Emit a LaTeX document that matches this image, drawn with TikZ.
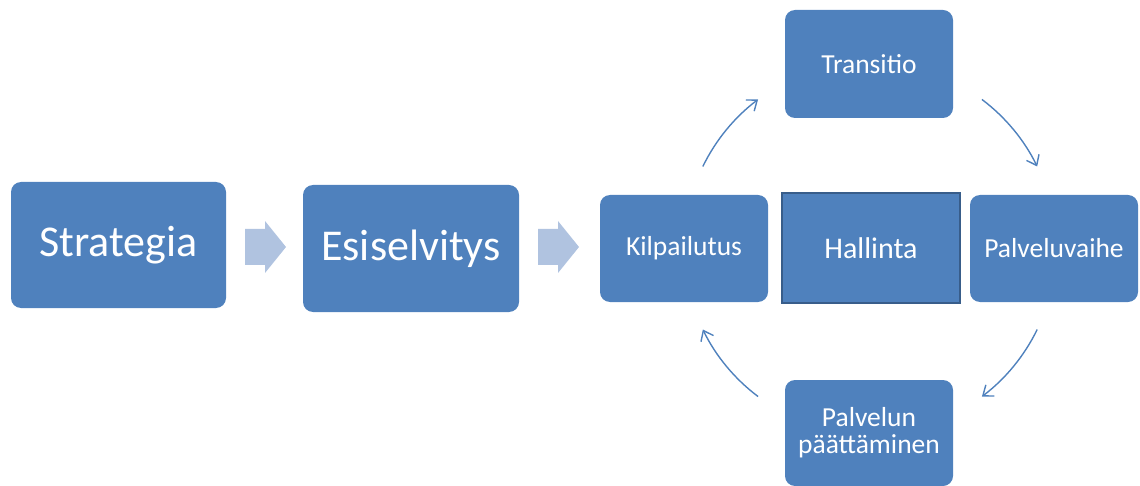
\documentclass[tikz,border=0pt]{standalone}
\usepackage{fontspec}
\setmainfont{Carlito}
\usetikzlibrary{calc,arrows.meta}
\definecolor{boxblue}{HTML}{4F81BD}
\definecolor{boxedge}{HTML}{385D8A}
\definecolor{chevron}{HTML}{B0C3E0}
\begin{document}
\begin{tikzpicture}[x=1pt,y=-1pt,
  stage/.style={fill=boxblue, rounded corners=10pt, text=white, inner sep=0pt, align=center},
  bigtext/.style={font=\fontsize{44}{48}\selectfont},
  smalltext/.style={font=\fontsize{27.5}{31}\selectfont},
  coretext/.style={font=\fontsize{30}{34}\selectfont},
  core/.style={fill=boxblue, draw=boxedge, line width=2pt, text=white, inner sep=0pt},
  cycle/.style={draw=boxblue, line width=1.4pt, -{Straight Barb[length=9pt,width=14pt,line width=1.4pt]}}
]
\useasboundingbox (0,0) rectangle (1140,486);

% main stages
\node[stage, bigtext, minimum width=215pt, minimum height=126pt] (strat) at (118.5,245) {Strategia};
\node[stage, bigtext, minimum width=216pt, minimum height=127pt] (esis) at (411,248.5) {Esiselvitys};

% block arrows between stages
\foreach \x/\n in {245/ch1, 538/ch2}{
  \coordinate (\n) at (\x,247);
  \fill[chevron] (\n) ++(0,-18) -- ++(20,0) -- ++(0,-8) -- ++(21,26) -- ++(-21,26) -- ++(0,-8) -- ++(-20,0) -- cycle;
}

% service cycle
\node[stage, smalltext, minimum width=168pt, minimum height=107pt] (kilp) at (684,248.5) {Kilpailutus};
\node[core, coretext, minimum width=178pt, minimum height=110pt] (hall) at (871,248) {Hallinta};
\node[stage, smalltext, minimum width=168pt, minimum height=107pt] (palv) at (1054,248.5) {Palveluvaihe};
\node[stage, smalltext, minimum width=168pt, minimum height=108pt] (trans) at (869,64) {Transitio};
\node[stage, smalltext, minimum width=168pt, minimum height=106pt] (paat) at (869,433) {Palvelun\\[-4pt]päättäminen};

% curved connectors around the cycle
\coordinate (c) at (870,248);
\def\R{186}
\coordinate (a1) at ($(c)+(-154:\R)$);
\coordinate (a2) at ($(c)+(-53:\R)$);
\coordinate (a3) at ($(c)+(26:\R)$);
\coordinate (a4) at ($(c)+(127:\R)$);
\draw[cycle] (a1) arc[start angle=-154, end angle=-127, radius=\R];
\draw[cycle] (a2) arc[start angle=-53, end angle=-26, radius=\R];
\draw[cycle] (a3) arc[start angle=26, end angle=53, radius=\R];
\draw[cycle] (a4) arc[start angle=127, end angle=154, radius=\R];
\end{tikzpicture}
\end{document}
